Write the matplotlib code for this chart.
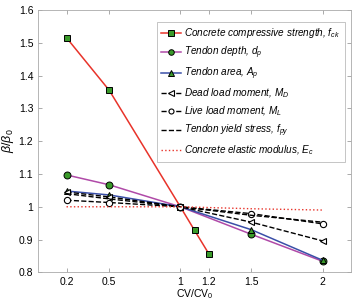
import matplotlib
matplotlib.use("Agg")
import matplotlib.pyplot as plt

# x positions (CV/CV0) and normalised reliability index per parameter
x_fck = [0.2, 0.5, 1.0, 1.1, 1.2]
fck = [1.515, 1.355, 1.0, 0.928, 0.857]

x_all = [0.2, 0.5, 1.0, 1.5, 2.0]
dp = [1.097, 1.067, 1.0, 0.916, 0.834]
Ap = [1.048, 1.036, 1.0, 0.930, 0.837]
MD = [1.045, 1.030, 1.0, 0.953, 0.896]
ML = [1.020, 1.013, 1.0, 0.979, 0.948]
fpy = [1.040, 1.024, 1.0, 0.974, 0.953]
Ec = [1.000, 1.000, 1.0, 0.994, 0.990]

xticks = [0.2, 0.5, 1, 1.2, 1.5, 2]
xtick_labels = ["0.2", "0.5", "1", "1.2", "1.5", "2"]
yticks = [0.8, 0.9, 1.0, 1.1, 1.2, 1.3, 1.4, 1.5, 1.6]
ytick_labels = ["0.8", "0.9", "1", "1.1", "1.2", "1.3", "1.4", "1.5", "1.6"]

plt.rcParams["font.family"] = "Liberation Sans"
plt.rcParams["mathtext.fontset"] = "custom"
plt.rcParams["mathtext.it"] = "Liberation Sans:italic"
plt.rcParams["mathtext.rm"] = "Liberation Sans"

fig = plt.figure(figsize=(3.56, 3.0), dpi=100)
ax = fig.add_axes([0.107, 0.092, 0.879, 0.875])

green = "#3a9a2a"
ax.plot(x_fck, fck, color="#e8332a", lw=1.1, marker="s", ms=5,
        mfc=green, mec="black", mew=0.7,
        label="Concrete compressive strength, $f_{ck}$")
ax.plot(x_all, dp, color="#b04aa8", lw=1.1, marker="o", ms=5,
        mfc=green, mec="black", mew=0.7,
        label="Tendon depth, $d_p$")
ax.plot(x_all, Ap, color="#3a4fa8", lw=1.1, marker="^", ms=5,
        mfc=green, mec="black", mew=0.7,
        label="Tendon area, $A_p$")
ax.plot(x_all, MD, color="black", lw=1.0, ls="--", marker="<", ms=5,
        mfc="white", mec="black", mew=0.8,
        label="Dead load moment, $M_D$")
ax.plot(x_all, ML, color="black", lw=1.0, ls="--", marker="o", ms=4.5,
        mfc="white", mec="black", mew=0.8,
        label="Live load moment, $M_L$")
ax.plot(x_all, fpy, color="black", lw=1.0, ls="--",
        label="Tendon yield stress, $f_{py}$")
ax.plot(x_all, Ec, color="#e8332a", lw=1.0, ls=":",
        label="Concrete elastic modulus, $E_c$")

ax.set_xlim(0, 2.2)
ax.set_ylim(0.8, 1.6)
ax.set_xticks(xticks)
ax.set_xticklabels(xtick_labels)
ax.set_yticks(yticks)
ax.set_yticklabels(ytick_labels)
ax.tick_params(direction="in", top=True, right=True, labelsize=7.5,
               length=3, width=0.5, color="#888888")
for s in ax.spines.values():
    s.set_color("#aaaaaa")
    s.set_linewidth(0.6)

ax.set_xlabel("CV/CV$_0$", fontsize=7.5, labelpad=0)
ax.set_ylabel(r"$\beta/\beta_0$", fontsize=9, labelpad=2)

leg = ax.legend(loc="upper right", bbox_to_anchor=(0.98, 0.955),
                handlelength=2.0, handletextpad=0.3, labelspacing=0.45,
                borderpad=0.45, borderaxespad=0, markerscale=0.8,
                fancybox=False, edgecolor="#aaaaaa",
                prop={"style": "italic", "size": 7.2})
leg.get_frame().set_linewidth(0.6)

fig.savefig("out.png", dpi=100)
